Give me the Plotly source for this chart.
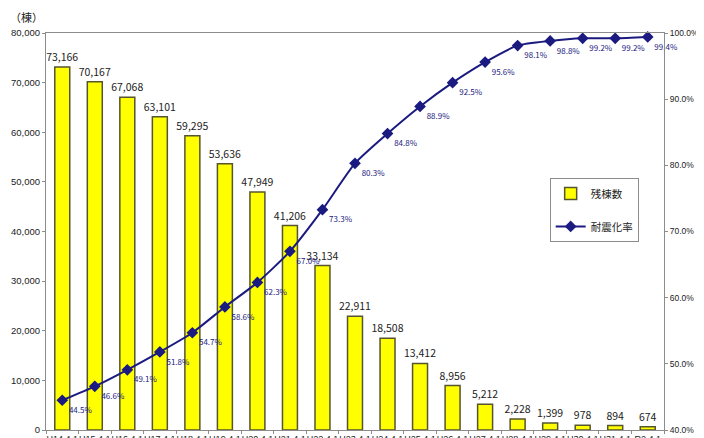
import plotly.graph_objects as go

# 年度（下端で切れているラベル）
years = [
    "H14.4.1", "H15.4.1", "H16.4.1", "H17.4.1", "H18.4.1", "H19.4.1", "H20.4.1",
    "H21.4.1", "H22.4.1", "H23.4.1", "H24.4.1", "H25.4.1", "H26.4.1", "H27.4.1",
    "H28.4.1", "H29.4.1", "H30.4.1", "H31.4.1", "R2.4.1",
]
remaining = [
    73166, 70167, 67068, 63101, 59295, 53636, 47949, 41206, 33134, 22911,
    18508, 13412, 8956, 5212, 2228, 1399, 978, 894, 674,
]
rate = [
    44.5, 46.6, 49.1, 51.8, 54.7, 58.6, 62.3, 67.0, 73.3, 80.3,
    84.8, 88.9, 92.5, 95.6, 98.1, 98.8, 99.2, 99.2, 99.4,
]

FONT = "Noto Sans CJK JP"
NUM = "Liberation Sans"
NAVY = "#1a1a80"
AXIS = "#8c8c8c"

fig = go.Figure()
fig.add_trace(
    go.Bar(
        x=years,
        y=remaining,
        name="残棟数",
        marker=dict(color="#ffff00", line=dict(color="#55552e", width=1.5)),
        texttemplate="%{y:,}",
        textposition="outside",
        constraintext="none",
        textfont=dict(size=10.5, color="#222222", family=FONT),
        cliponaxis=False,
        legendgroup="a",
    )
)
fig.add_trace(
    go.Scatter(
        x=years,
        y=rate,
        name="耐震化率",
        yaxis="y2",
        mode="lines+markers+text",
        line=dict(color=NAVY, width=2, shape="spline", smoothing=0.6),
        marker=dict(symbol="diamond", size=9, color=NAVY),
        texttemplate="%{y:.1f}%",
        textposition="bottom right",
        textfont=dict(size=8, color=NAVY, family=FONT),
        cliponaxis=False,
        legendgroup="b",
    )
)

# the page body has an 8px margin, so the figure is 8px smaller each way
fig.update_layout(
    width=696,
    height=430,
    margin=dict(l=38, r=40, t=25, b=8, autoexpand=False),
    paper_bgcolor="white",
    plot_bgcolor="white",
    font=dict(family=FONT, size=9, color="#222222"),
    bargap=0.54,
    showlegend=True,
    legend=dict(
        x=0.815,
        y=0.635,
        xanchor="left",
        yanchor="top",
        bgcolor="white",
        bordercolor=AXIS,
        borderwidth=1,
        font=dict(size=10.5, family=FONT),
        traceorder="grouped",
        tracegroupgap=14,
        itemwidth=30,
    ),
    xaxis=dict(
        type="category",
        range=[-0.5, len(years) - 0.5],
        automargin=False,
        showline=True,
        linecolor=AXIS,
        mirror=True,
        ticks="outside",
        tickson="boundaries",
        ticklen=3,
        tickcolor=AXIS,
        showgrid=False,
        tickangle=0,
        tickfont=dict(size=9, family=NUM),
    ),
    yaxis=dict(
        automargin=False,
        range=[0, 80000],
        dtick=10000,
        tickformat=",",
        showline=True,
        linecolor=AXIS,
        ticks="outside",
        ticklen=3,
        tickcolor=AXIS,
        showgrid=False,
        zeroline=False,
        tickfont=dict(size=9.5, family=NUM),
    ),
    yaxis2=dict(
        automargin=False,
        overlaying="y",
        side="right",
        range=[40, 100],
        dtick=10,
        tickformat=".1f",
        ticksuffix="%",
        showline=True,
        linecolor=AXIS,
        ticks="outside",
        ticklen=3,
        tickcolor=AXIS,
        showgrid=False,
        zeroline=False,
        tickfont=dict(size=8.5, family=NUM),
    ),
)

# タイトル（上端で切れている）と単位
fig.add_annotation(
    text="<b>○ 耐震化の進捗状況</b>",
    xref="paper",
    yref="paper",
    x=-0.066,
    y=1.064,
    xanchor="left",
    yanchor="bottom",
    showarrow=False,
    font=dict(size=24, color="black", family=FONT),
)
fig.add_annotation(
    text="（棟）",
    xref="paper",
    yref="paper",
    x=-0.062,
    y=1.04,
    xanchor="left",
    yanchor="middle",
    showarrow=False,
    font=dict(size=11, color="#222222", family=FONT),
)
fig.add_shape(
    type="line",
    xref="paper",
    yref="paper",
    x0=1.063,
    x1=1.063,
    y0=-0.03,
    y1=1.09,
    line=dict(color="#b0b0c0", width=1),
)

fig.write_html("out.html")
